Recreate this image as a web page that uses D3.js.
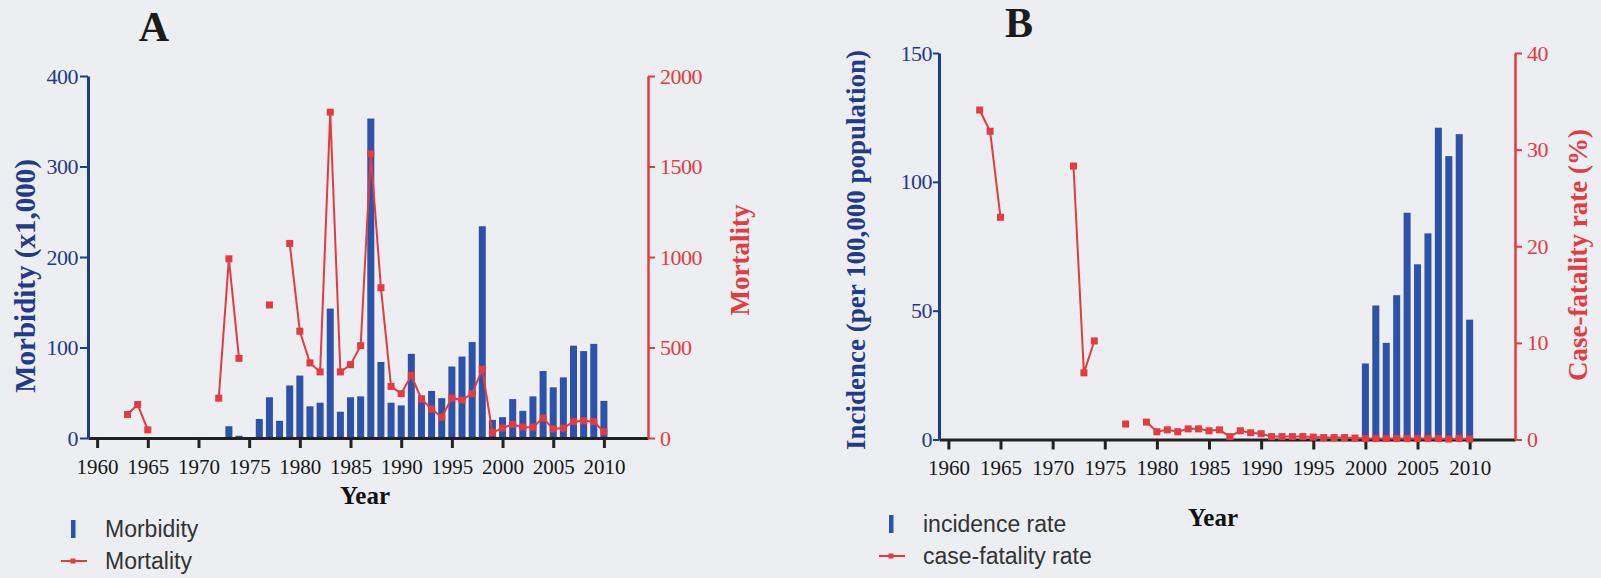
<!DOCTYPE html>
<html>
<head>
<meta charset="utf-8">
<script src="https://cdn.jsdelivr.net/npm/d3@7"></script>
<style>
  body { margin: 0; background: #eceef1; }
  svg { display: block; }
  .tick text { font-family: "Liberation Serif", serif; }
</style>
</head>
<body>
<div class="canvas"></div>
<script>
// ---- data ----
// panel A: morbidity (x1,000) bars and mortality line
const morbidityYears = [1973, 1974, 1976, 1977, 1978, 1979, 1980, 1981, 1982, 1983, 1984, 1985, 1986, 1987, 1988, 1989, 1990, 1991, 1992, 1993, 1994, 1995, 1996, 1997, 1998, 1999, 2000, 2001, 2002, 2003, 2004, 2005, 2006, 2007, 2008, 2009, 2010];
const morbidity = [13, 2.5, 21, 45, 19, 58, 69, 35, 39, 143, 29, 45, 46, 353, 84, 39, 36, 93, 47, 52, 44, 79, 90, 106, 234, 20, 23, 43, 30, 46, 74, 56, 67, 102, 96, 104, 41];

const mortalityYears = [1963, 1964, 1965, 1966, 1972, 1973, 1974, 1975, 1977, 1978, 1979, 1980, 1981, 1982, 1983, 1984, 1985, 1986, 1987, 1988, 1989, 1990, 1991, 1992, 1993, 1994, 1995, 1996, 1997, 1998, 1999, 2000, 2001, 2002, 2003, 2004, 2005, 2006, 2007, 2008, 2009, 2010];
const mortality = [130, 185, 45, null, 220, 990, 440, null, 735, null, 1075, 590, 415, 365, 1800, 365, 405, 510, 1570, 830, 285, 245, 345, 215, 160, 115, 220, 210, 245, 380, 30, 55, 75, 60, 60, 110, 50, 55, 90, 95, 90, 35];

// panel B: incidence (per 100,000) bars and case-fatality rate line
const incidenceYears = [2000, 2001, 2002, 2003, 2004, 2005, 2006, 2007, 2008, 2009, 2010];
const incidence = [29.5, 52, 37.5, 56, 88, 68, 80, 121, 110, 118.5, 46.5];

const fatalityYears = [1963, 1964, 1965, 1966, 1972, 1973, 1974, 1975, 1977, 1978, 1979, 1980, 1981, 1982, 1983, 1984, 1985, 1986, 1987, 1988, 1989, 1990, 1991, 1992, 1993, 1994, 1995, 1996, 1997, 1998, 1999, 2000, 2001, 2002, 2003, 2004, 2005, 2006, 2007, 2008, 2009, 2010];
const fatality = [34.1, 31.9, 23.0, null, 28.3, 6.9, 10.2, null, 1.6, null, 1.8, 0.8, 1.0, 0.8, 1.1, 1.1, 0.9, 1.0, 0.3, 0.9, 0.7, 0.6, 0.3, 0.3, 0.3, 0.3, 0.25, 0.2, 0.2, 0.2, 0.15, 0.1, 0.1, 0.1, 0.1, 0.1, 0.1, 0.1, 0.1, 0.05, 0.1, 0.05];

const yearTicks = [1960, 1965, 1970, 1975, 1980, 1985, 1990, 1995, 2000, 2005, 2010];
const morbidityTicks = [0, 100, 200, 300, 400];
const mortalityTicks = [0, 500, 1000, 1500, 2000];
const incidenceTicks = [0, 50, 100, 150];
const fatalityTicks = [0, 10, 20, 30, 40];

const blue = '#2d52a8';
const navy = '#233b86';
const red = '#e23c43';

const svg = d3.select('.canvas')
  .append('svg')
  .attr('width', 1601)
  .attr('height', 578);

function drawPanel(p) {
  const x = d3.scaleLinear().domain([1959.1, 2014.35]).range([p.left, p.right]);
  const yL = d3.scaleLinear().domain([0, p.leftMax]).range([p.bottom, p.top]);
  const yR = d3.scaleLinear().domain([0, p.rightMax]).range([p.bottom, p.top]);

  const g = svg.append('g');

  // bars
  g.selectAll('rect.bar')
    .data(p.barYears.map((yr, i) => ({ yr, v: p.bars[i] })))
    .enter()
    .append('rect')
    .attr('class', 'bar')
    .attr('x', d => x(d.yr) - 3.5)
    .attr('width', 7)
    .attr('y', d => yL(d.v))
    .attr('height', d => yL(0) - yL(d.v))
    .attr('fill', blue);

  // x axis
  const xAxis = g.append('g')
    .attr('transform', `translate(0, ${p.bottom})`)
    .call(d3.axisBottom(x).tickValues(yearTicks).tickFormat(d3.format('d')).tickSize(10).tickSizeOuter(0).tickPadding(11));
  xAxis.select('.domain').attr('stroke', '#222').attr('stroke-width', 3);
  xAxis.selectAll('.tick line').attr('stroke', '#222').attr('stroke-width', 3);
  xAxis.selectAll('.tick text').attr('font-size', 21).attr('fill', '#161616');

  // left axis
  const lAxis = g.append('g')
    .attr('transform', `translate(${p.left}, 0)`)
    .call(d3.axisLeft(yL).tickValues(p.leftTicks).tickFormat(d3.format('d')).tickSize(p.leftTick).tickSizeOuter(0).tickPadding(p.leftPad));
  lAxis.select('.domain').attr('stroke', navy).attr('stroke-width', 3);
  lAxis.selectAll('.tick line').attr('stroke', navy).attr('stroke-width', 2);
  lAxis.selectAll('.tick text').attr('font-size', 22).attr('fill', navy).attr('letter-spacing', -0.5);

  // right axis
  const rAxis = g.append('g')
    .attr('transform', `translate(${p.right}, 0)`)
    .call(d3.axisRight(yR).tickValues(p.rightTicks).tickFormat(d3.format('d')).tickSize(7).tickSizeOuter(0).tickPadding(p.rightPad));
  rAxis.select('.domain').attr('stroke', red).attr('stroke-width', 2.5);
  rAxis.selectAll('.tick line').attr('stroke', red).attr('stroke-width', 2);
  rAxis.selectAll('.tick text').attr('font-size', 22).attr('fill', red).attr('letter-spacing', -0.5);

  // line with gaps
  const pts = p.lineYears.map((yr, i) => ({ yr, v: p.line[i] }));
  const line = d3.line()
    .defined(d => d.v !== null)
    .x(d => x(d.yr))
    .y(d => yR(d.v));
  g.append('path')
    .datum(pts)
    .attr('fill', 'none')
    .attr('stroke', red)
    .attr('stroke-width', 2)
    .attr('d', line);
  g.selectAll('rect.pt')
    .data(pts.filter(d => d.v !== null))
    .enter()
    .append('rect')
    .attr('class', 'pt')
    .attr('x', d => x(d.yr) - 3.5)
    .attr('y', d => yR(d.v) - 3.5)
    .attr('width', 7)
    .attr('height', 7)
    .attr('fill', red);

  // axis titles
  g.append('text')
    .attr('transform', `translate(${p.leftTitleX}, ${p.leftTitleY}) rotate(-90)`)
    .attr('text-anchor', 'middle')
    .attr('font-family', 'Liberation Serif, serif')
    .attr('font-weight', 'bold')
    .attr('font-size', p.leftTitleSize)
    .attr('fill', navy)
    .text(p.leftTitle);
  g.append('text')
    .attr('transform', `translate(${p.rightTitleX}, ${p.rightTitleY}) rotate(-90)`)
    .attr('text-anchor', 'middle')
    .attr('font-family', 'Liberation Serif, serif')
    .attr('font-weight', 'bold')
    .attr('font-size', 27)
    .attr('fill', red)
    .text(p.rightTitle);
  g.append('text')
    .attr('x', p.yearX).attr('y', p.yearY)
    .attr('text-anchor', 'middle')
    .attr('font-family', 'Liberation Serif, serif')
    .attr('font-weight', 'bold')
    .attr('font-size', 25)
    .attr('fill', '#111')
    .text('Year');

  // panel letter
  g.append('text')
    .attr('x', p.letterX).attr('y', p.letterY)
    .attr('text-anchor', 'middle')
    .attr('font-family', 'Liberation Serif, serif')
    .attr('font-weight', 'bold')
    .attr('font-size', 42)
    .attr('fill', '#1b1b1b')
    .text(p.letter);

  // legend
  const lg = g.append('g').attr('transform', `translate(${p.legendX}, ${p.legendY})`);
  lg.append('rect').attr('x', -2).attr('y', -9).attr('width', 4.5).attr('height', 18).attr('fill', blue);
  lg.append('text').attr('x', 32).attr('y', 8)
    .attr('font-family', 'Liberation Sans, sans-serif')
    .attr('font-size', 23).attr('fill', '#333').text(p.barLabel);
  lg.append('line').attr('x1', -12).attr('x2', 14).attr('y1', 32).attr('y2', 32)
    .attr('stroke', red).attr('stroke-width', 2);
  lg.append('rect').attr('x', -2.5).attr('y', 29.5).attr('width', 5).attr('height', 5).attr('fill', red);
  lg.append('text').attr('x', 32).attr('y', 40)
    .attr('font-family', 'Liberation Sans, sans-serif')
    .attr('font-size', 23).attr('fill', '#333').text(p.lineLabel);
}

drawPanel({
  left: 88, right: 648, top: 76, bottom: 438,
  leftMax: 400, rightMax: 2000, leftTicks: morbidityTicks, rightTicks: mortalityTicks,
  leftTick: 8, leftPad: 2, rightPad: 5,
  barYears: morbidityYears, bars: morbidity, lineYears: mortalityYears, line: mortality,
  leftTitle: 'Morbidity (x1,000)', leftTitleSize: 29, leftTitleX: 35, leftTitleY: 276,
  rightTitle: 'Mortality', rightTitleX: 749, rightTitleY: 260,
  yearX: 365, yearY: 504, letter: 'A', letterX: 154, letterY: 41,
  legendX: 73, legendY: 529, barLabel: 'Morbidity', lineLabel: 'Mortality'
});

drawPanel({
  left: 939, right: 1515, top: 53, bottom: 439.5,
  leftMax: 150, rightMax: 40, leftTicks: incidenceTicks, rightTicks: fatalityTicks,
  leftTick: 6, leftPad: 1, rightPad: 5,
  barYears: incidenceYears, bars: incidence, lineYears: fatalityYears, line: fatality,
  leftTitle: 'Incidence (per 100,000 population)', leftTitleSize: 27, leftTitleX: 865, leftTitleY: 250,
  rightTitle: 'Case-fatality rate (%)', rightTitleX: 1587, rightTitleY: 255,
  yearX: 1213, yearY: 526, letter: 'B', letterX: 1019, letterY: 37,
  legendX: 891, legendY: 524, barLabel: 'incidence rate', lineLabel: 'case-fatality rate'
});
</script>
</body>
</html>
